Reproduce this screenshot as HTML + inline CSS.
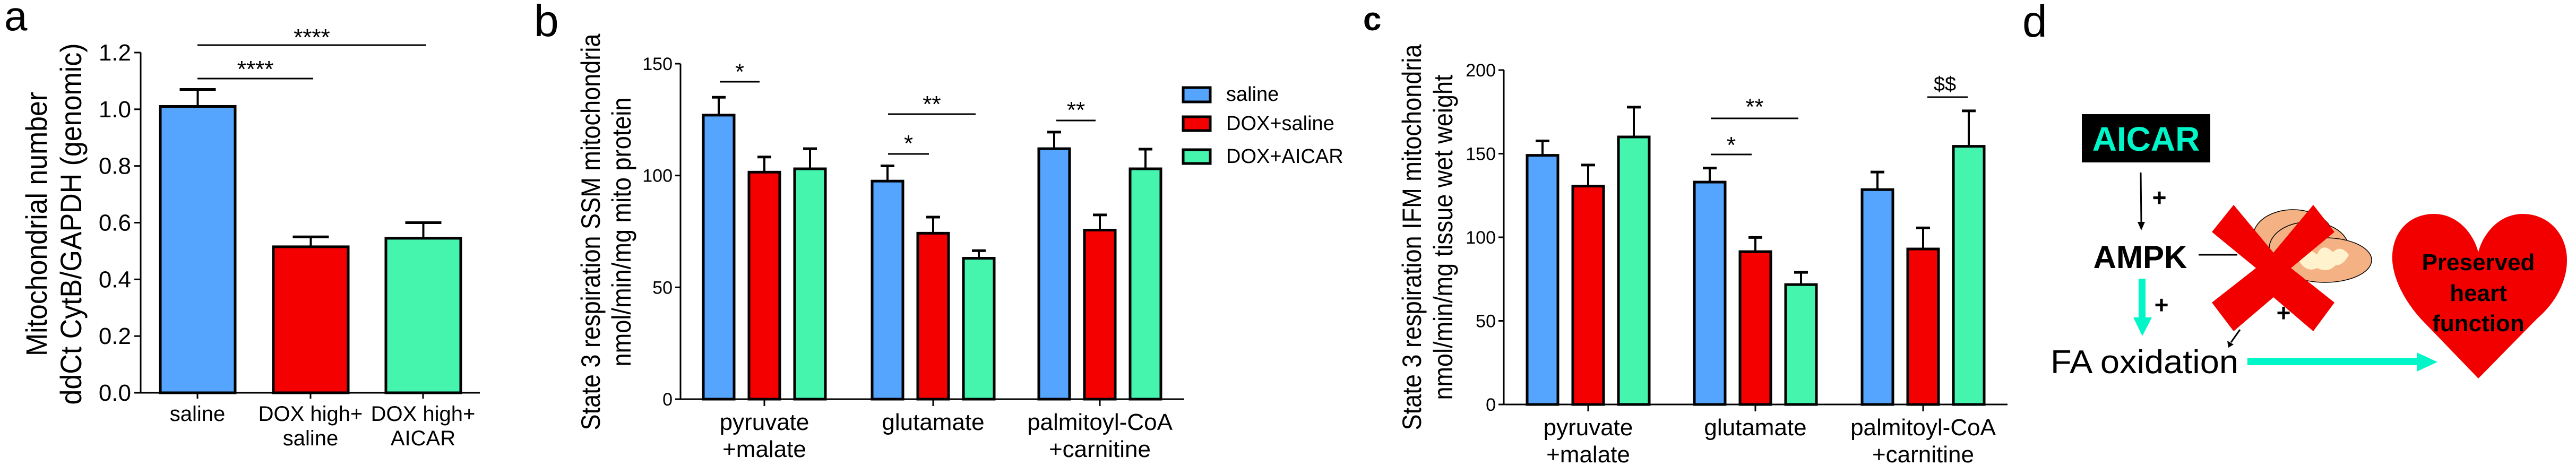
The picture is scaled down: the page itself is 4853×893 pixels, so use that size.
<!DOCTYPE html>
<html><head><meta charset="utf-8"><style>
html,body{margin:0;padding:0;background:#fff;}
svg{display:block;font-family:"Liberation Sans",Arial,sans-serif;}
</style></head><body>
<svg id="fig" width="4853" height="893" viewBox="0 0 4853 893" xmlns="http://www.w3.org/2000/svg">
<text x="8" y="57" font-size="78">a</text>
<text x="1006" y="68" font-size="84">b</text>
<text x="2568" y="57" font-size="62" font-weight="bold">c</text>
<text x="3810" y="69" font-size="84">d</text>
<g id="pa"></g>
<g id="pb"></g>
<g id="pc"></g>
<g id="legend">
 <rect x="2229" y="165" width="51" height="27" fill="#55A5FF" stroke="#000" stroke-width="5"/>
 <text x="2310" y="190" font-size="38">saline</text>
 <rect x="2229" y="220" width="51" height="26" fill="#F50000" stroke="#000" stroke-width="5"/>
 <text x="2310" y="245" font-size="38">DOX+saline</text>
 <rect x="2229" y="282" width="51" height="26" fill="#45F5AE" stroke="#000" stroke-width="5"/>
 <text x="2310" y="307" font-size="38">DOX+AICAR</text>
</g>
<g id="pd">
 <rect x="3922" y="215" width="242" height="91" fill="#000"/>
 <text x="4043" y="284" font-size="64" font-weight="bold" fill="#00F5C8" text-anchor="middle">AICAR</text>
 <line x1="4033" y1="325" x2="4034" y2="420" stroke="#000" stroke-width="3"/>
 <polygon points="4027,418 4041,418 4034,434" fill="#000"/>
 <text x="4068" y="388" font-size="46" font-weight="bold" text-anchor="middle">+</text>
 <text x="4032" y="505" font-size="60" font-weight="bold" text-anchor="middle">AMPK</text>
 <line x1="4142" y1="480" x2="4215" y2="480" stroke="#000" stroke-width="3"/>
 <g>
  <ellipse cx="4320" cy="445" rx="75" ry="50" fill="#F4B183" stroke="#000" stroke-width="1.5"/>
  <ellipse cx="4350" cy="468" rx="75" ry="50" fill="#F4B183" stroke="#000" stroke-width="1.5"/>
  <ellipse cx="4380" cy="490" rx="88" ry="42" fill="#F4B183" stroke="#000" stroke-width="1.5"/>
  <path d="M4330,490 q15,-30 35,-10 q10,-25 30,-5 q15,-15 30,5 q-10,20 -25,20 q-15,15 -35,5 q-20,10 -35,-15z" fill="#FFF2CC"/>
 </g>
 <text x="4302" y="605" font-size="46" font-weight="bold" text-anchor="middle">+</text>
 <line x1="4220" y1="621" x2="4203" y2="645" stroke="#000" stroke-width="3"/>
 <polygon points="4196,642 4208,649 4198,655" fill="#000"/>
 <polygon points="4167,437 4208,386 4283,476 4358,386 4398,437 4316,505 4398,570 4358,624 4283,560 4208,624 4167,570 4250,505" fill="#F20000"/>
 <rect x="4029" y="525" width="13" height="75" fill="#00F5C8"/>
 <polygon points="4019,598 4054,598 4036,633" fill="#00F5C8"/>
 <text x="4072" y="590" font-size="46" font-weight="bold" text-anchor="middle">+</text>
 <text x="3863" y="703" font-size="62" textLength="354" lengthAdjust="spacingAndGlyphs">FA oxidation</text>
 <rect x="4234" y="674" width="322" height="14" fill="#00F5C8"/>
 <polygon points="4553,664 4592,682 4553,700" fill="#00F5C8"/>
 <path d="M4669,713 L4560,600 C4520,555 4505,510 4507,480 C4510,430 4545,403 4585,403 C4630,403 4660,440 4669,475 C4678,440 4708,403 4753,403 C4800,403 4836,440 4836,490 C4836,530 4815,570 4780,600 Z" fill="#F20000"/>
 <text font-size="44" font-weight="bold" text-anchor="middle">
  <tspan x="4669" y="509">Preserved</tspan><tspan x="4669" y="567">heart</tspan><tspan x="4669" y="624">function</tspan>
 </text>
</g>
</svg>
<script>
// Panel a data
const aCategories = [["saline"],["DOX high+","saline"],["DOX high+","AICAR"]];
const aValues = [1.01, 0.515, 0.545];
const aErrors = [1.07, 0.55, 0.60];
const aTicks = ["0.0","0.2","0.4","0.6","0.8","1.0","1.2"];
const aTickValues = [0,0.2,0.4,0.6,0.8,1.0,1.2];
// Panels b/c shared categories
const bcCategories = [["pyruvate","+malate"],["glutamate"],["palmitoyl-CoA","+carnitine"]];
const seriesNames = ["saline","DOX+saline","DOX+AICAR"];
// Panel b
const bSaline = [127, 97.5, 112];
const bDoxSaline = [101.5, 74.2, 75.6];
const bDoxAicar = [103, 63, 103];
const bSalineErr = [135, 104.3, 119.4];
const bDoxSalineErr = [108.3, 81.4, 82.4];
const bDoxAicarErr = [112, 66.4, 111.8];
const bTicks = [0,50,100,150];
// Panel c
const cSaline = [149, 133, 128.5];
const cDoxSaline = [130.6, 91.4, 93];
const cDoxAicar = [160, 71.7, 154.4];
const cSalineErr = [157.6, 141.4, 139];
const cDoxSalineErr = [143.2, 99.9, 105.6];
const cDoxAicarErr = [177.8, 79, 175.6];
const cTicks = [0,50,100,150,200];

const NS="http://www.w3.org/2000/svg";
const colors=["#55A5FF","#F50000","#45F5AE"];
function mk(parent,tag,attrs,txt){const e=document.createElementNS(NS,tag);for(const k in attrs)e.setAttribute(k,attrs[k]);if(txt!==undefined)e.textContent=txt;parent.appendChild(e);return e;}
function yScale(y0,y1,v0,v1){return v=>y0+(v-v0)*(y1-y0)/(v1-v0);}
function drawBar(g,x,w,yb,yt,ye,color,cap,name){
  const l=mk(g,"line",{x1:x+w/2,x2:x+w/2,y1:yt,y2:ye,stroke:"#000","stroke-width":4});
  
  
  const c=mk(g,"line",{x1:x+w/2-cap,x2:x+w/2+cap,y1:ye,y2:ye,stroke:"#000","stroke-width":5});
  
  
  const r=mk(g,"rect",{x:x,y:yt,width:w,height:yb-yt,fill:color,stroke:"#000","stroke-width":5});
  
  
}
function sig(g,x1,x2,y,label,ty,name){
  const l=mk(g,"line",{x1:x1,x2:x2,y1:y,y2:y,stroke:"#000","stroke-width":3});
  
  
  const t=mk(g,"text",{x:(x1+x2)/2,y:ty,"font-size":44,"text-anchor":"middle"},label);
  
  
}
function yTitle(g,cx,cy,lines,xs,lens,fs,name){
  lines.forEach((s,i)=>{
    const t=mk(g,"text",{x:0,y:0,"font-size":fs,"text-anchor":"middle",transform:`translate(${xs[i]},${cy}) rotate(-90)`,textLength:lens[i],lengthAdjust:"spacingAndGlyphs"},s);
    
    
  });
}

// ---- Panel a
(function(){
  const g=document.getElementById('pa');
  const ax=265, yb=740, y=yScale(740,99,0,1.2);
  const axl=mk(g,"line",{x1:ax,x2:ax,y1:y(1.2),y2:yb,stroke:"#000","stroke-width":3});
  
  
  const xl=mk(g,"line",{x1:ax-12,x2:904,y1:yb,y2:yb,stroke:"#000","stroke-width":3});
  
  
  aTickValues.forEach((v,i)=>{
    const tk=mk(g,"line",{x1:ax-12,x2:ax,y1:y(v),y2:y(v),stroke:"#000","stroke-width":3});
    
    
    const t=mk(g,"text",{x:ax-18,y:y(v)+15,"font-size":44,"text-anchor":"end"},aTicks[i]);
    
    
  });
  const centers=[372,585,797];
  aValues.forEach((v,i)=>{
    drawBar(g,centers[i]-70,141,yb,y(v),y(aErrors[i]),colors[i],34,'bar-a-'+i);
    const tk=mk(g,"line",{x1:centers[i],x2:centers[i],y1:yb,y2:yb+11,stroke:"#000","stroke-width":3});
    
    
    aCategories[i].forEach((s,j)=>{
      const t=mk(g,"text",{x:centers[i],y:793+j*46,"font-size":40,"text-anchor":"middle"},s);
      
      
    });
  });
  sig(g,372,590,148,"****",145,'sig-a-1');
  sig(g,372,803,85,"****",85,'sig-a-2');
  yTitle(g,0,422,["Mitochondrial number","ddCt CytB/GAPDH (genomic)"],[88,153],[498,681],56,'y-axis-title-a');
})();

// ---- Panels b and c
function groupedChart(gid,ax,axEnd,y0px,ytop,vmax,ticks,vals,errs,centers,labY,titleLines,titleX,titleLens,titleCy,pfx){
  const g=document.getElementById(gid);
  const y=yScale(y0px,ytop,0,vmax);
  const a=mk(g,"line",{x1:ax,x2:ax,y1:ytop,y2:y0px,stroke:"#000","stroke-width":3});
  
  
  const xl=mk(g,"line",{x1:ax-10,x2:axEnd,y1:y0px,y2:y0px,stroke:"#000","stroke-width":3});
  
  
  ticks.forEach(v=>{
    const tk=mk(g,"line",{x1:ax-10,x2:ax,y1:y(v),y2:y(v),stroke:"#000","stroke-width":3});
    
    
    const t=mk(g,"text",{x:ax-15,y:y(v)+12,"font-size":34,"text-anchor":"end"},String(v));
    
    
  });
  centers.forEach((c,i)=>{
    const tk=mk(g,"line",{x1:c,x2:c,y1:y0px,y2:y0px+13,stroke:"#000","stroke-width":3});
    
    
    bcCategories[i].forEach((s,j)=>{
      const t=mk(g,"text",{x:c,y:labY+j*51,"font-size":44,"text-anchor":"middle"},s);
      
      
    });
    vals.forEach((ser,k)=>{
      const bx=c+(k-1)*86-29;
      drawBar(g,bx,58,y0px,y(ser[i]),y(errs[k][i]),colors[k],13,pfx+'-'+seriesNames[k]+'-'+i);
    });
  });
  yTitle(g,0,titleCy,titleLines,titleX,titleLens,50,'y-axis-title-'+pfx);
  return y;
}
const yb=groupedChart('pb',1282,2231,752,120,150,bTicks,[bSaline,bDoxSaline,bDoxAicar],[bSalineErr,bDoxSaline.map((v,i)=>bDoxSalineErr[i]),bDoxAicarErr],[1440,1758,2072],810,
  ["State 3 respiration SSM mitochondria","nmol/min/mg mito protein"],[1130,1188],[747,507],437,'bar-b');
(function(){const g=document.getElementById('pb');
  sig(g,1356,1431,154,"*",150,'sig-b-pyruvate');
  sig(g,1673,1750,290,"*",285,'sig-b-glutamate-1');
  sig(g,1673,1838,215,"**",211,'sig-b-glutamate-2');
  sig(g,1990,2064,227,"**",222,'sig-b-palmitoyl');
})();
const yc=groupedChart('pc',2833,3782,762,132,200,cTicks,[cSaline,cDoxSaline,cDoxAicar],[cSalineErr,cDoxSaline.map((v,i)=>cDoxSalineErr[i]),cDoxAicarErr],[2992,3307,3623],820,
  ["State 3 respiration IFM mitochondria","nmol/min/mg tissue wet weight"],[2677,2736],[727,613],447,'bar-c');
(function(){const g=document.getElementById('pc');
  sig(g,3223,3300,291,"*",288,'sig-c-glutamate-1');
  sig(g,3223,3388,223,"**",216,'sig-c-glutamate-2');
  const l=mk(g,"line",{x1:3631,x2:3707,y1:183,y2:183,stroke:"#000","stroke-width":3});
  
  
  const t=mk(g,"text",{x:3664,y:171,"font-size":38,"text-anchor":"middle"},"$$");
  
  
})();
</script>
</body></html>
